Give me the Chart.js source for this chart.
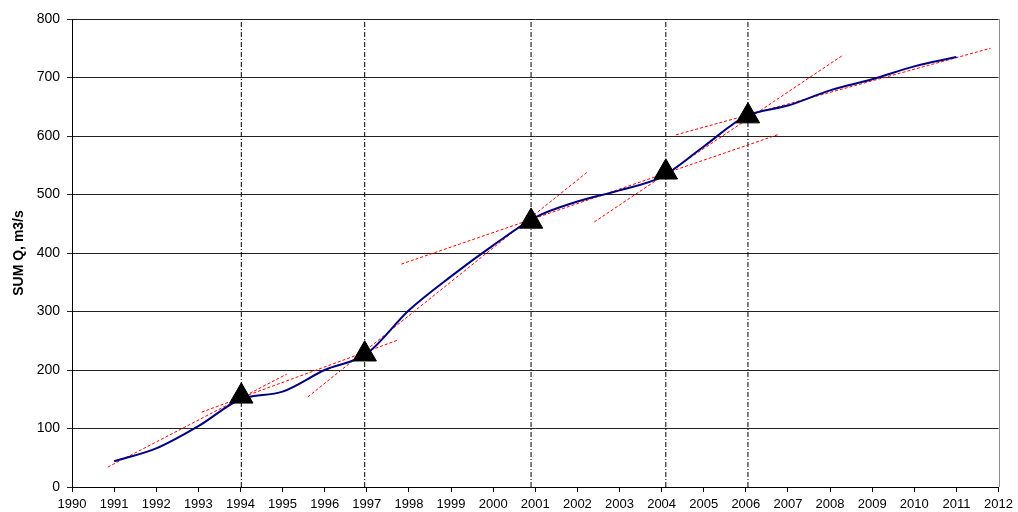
<!DOCTYPE html>
<html>
<head>
<meta charset="utf-8">
<script src="https://cdn.jsdelivr.net/npm/chart.js@4/dist/chart.umd.min.js"></script>
<style>
  html, body { margin: 0; padding: 0; background: #ffffff; }
  #wrap { width: 1018px; height: 512px; }
</style>
</head>
<body>
<div id="wrap"><canvas id="c" width="1018" height="512"></canvas></div>
<script>
// ---- data ----
const years = [1991, 1992, 1993, 1994, 1995, 1996, 1997, 1998, 1999, 2000, 2001,
               2002, 2003, 2004, 2005, 2006, 2007, 2008, 2009, 2010, 2011];
const sumQ  = [44, 66, 104, 150, 163, 200, 228, 302, 360, 413, 461,
               488, 507, 530, 582, 634, 652, 678, 697, 719, 735];

// break points (triangles + vertical dash-dot lines)
const breakYears  = [1994.02, 1996.95, 2000.9, 2004.1, 2006.05];
const breakValues = [155, 227, 454, 538, 634];

// red dashed trend segments
const trendStartX = [1990.85, 1993.08, 1995.60, 1997.82, 2002.40, 2004.34];
const trendStartY = [34, 128, 154, 381, 453, 602];
const trendEndX   = [1995.10, 1997.73, 2002.23, 2006.79, 2008.28, 2011.81];
const trendEndY   = [193, 251, 538, 603, 737, 750];

// axes
const xTicks = [1990, 1991, 1992, 1993, 1994, 1995, 1996, 1997, 1998, 1999, 2000, 2001,
                2002, 2003, 2004, 2005, 2006, 2007, 2008, 2009, 2010, 2011, 2012];
const yTicks = [0, 100, 200, 300, 400, 500, 600, 700, 800];
const yTitle = 'SUM Q, m3/s';

// ---- chart ----
const FONT = '"Liberation Sans", Arial, sans-serif';
const xMin = xTicks[0], xMax = xTicks[xTicks.length - 1];
const yMin = yTicks[0], yMax = yTicks[yTicks.length - 1];

const datasets = [];

datasets.push({
  label: 'breaks',
  data: breakYears.map((x, i) => ({ x: x, y: breakValues[i] })),
  showLine: false,
  pointStyle: 'triangle',
  pointRadius: 13.5,
  pointBackgroundColor: '#000000',
  pointBorderColor: '#000000',
  pointBorderWidth: 1
});

datasets.push({
  label: 'SUM Q',
  data: years.map((x, i) => ({ x: x, y: sumQ[i] })),
  showLine: true,
  borderColor: '#000080',
  borderWidth: 2,
  pointRadius: 0,
  tension: 0.35,
  cubicInterpolationMode: 'monotone'
});

trendStartX.forEach((sx, i) => {
  datasets.push({
    label: 'trend' + i,
    data: [{ x: sx, y: trendStartY[i] }, { x: trendEndX[i], y: trendEndY[i] }],
    showLine: true,
    borderColor: '#ff0000',
    borderWidth: 1,
    borderDash: [3, 2],
    pointRadius: 0
  });
});

breakYears.forEach((bx, i) => {
  datasets.push({
    label: 'vline' + i,
    data: [{ x: bx, y: yMin }, { x: bx, y: yMax }],
    showLine: true,
    borderColor: '#000000',
    borderWidth: 1,
    borderDash: [5, 2, 1, 2],
    pointRadius: 0
  });
});

const frame = {
  id: 'frame',
  afterDraw(chart) {
    const { ctx, chartArea } = chart;
    ctx.save();
    ctx.strokeStyle = '#8c8c8c';
    ctx.lineWidth = 1;
    ctx.beginPath();
    ctx.moveTo(Math.round(chartArea.right) + 0.5, chartArea.top);
    ctx.lineTo(Math.round(chartArea.right) + 0.5, chartArea.bottom);
    ctx.stroke();
    ctx.restore();
  }
};

new Chart(document.getElementById('c'), {
  type: 'scatter',
  data: { datasets },
  plugins: [frame],
  options: {
    responsive: false,
    animation: false,
    layout: { padding: { top: 19, right: 18, bottom: 0, left: 0 } },
    plugins: { legend: { display: false }, tooltip: { enabled: false } },
    scales: {
      x: {
        type: 'linear',
        min: xMin, max: xMax,
        afterBuildTicks: (s) => { s.ticks = xTicks.map(v => ({ value: v })); },
        afterFit: (s) => { s.height = 25; },
        ticks: {
          color: '#000', font: { family: FONT, size: 13 }, padding: 5,
          maxRotation: 0, autoSkip: false,
          callback: (v) => String(v)
        },
        grid: { drawOnChartArea: false, drawTicks: true, tickLength: 5, color: '#000' },
        border: { color: '#000', width: 1 }
      },
      y: {
        type: 'linear',
        min: yMin, max: yMax,
        afterBuildTicks: (s) => { s.ticks = yTicks.map(v => ({ value: v })); },
        afterFit: (s) => { s.width = 72; },
        ticks: { color: '#000', font: { family: FONT, size: 14 }, padding: 7 },
        grid: { color: '#222', lineWidth: 1, drawTicks: true, tickLength: 5 },
        border: { color: '#000', width: 1 },
        title: {
          display: true, text: yTitle, color: '#000',
          font: { family: FONT, size: 14, weight: 'bold' },
          padding: { top: 11, bottom: 0 }
        }
      }
    }
  }
});
</script>
</body>
</html>
